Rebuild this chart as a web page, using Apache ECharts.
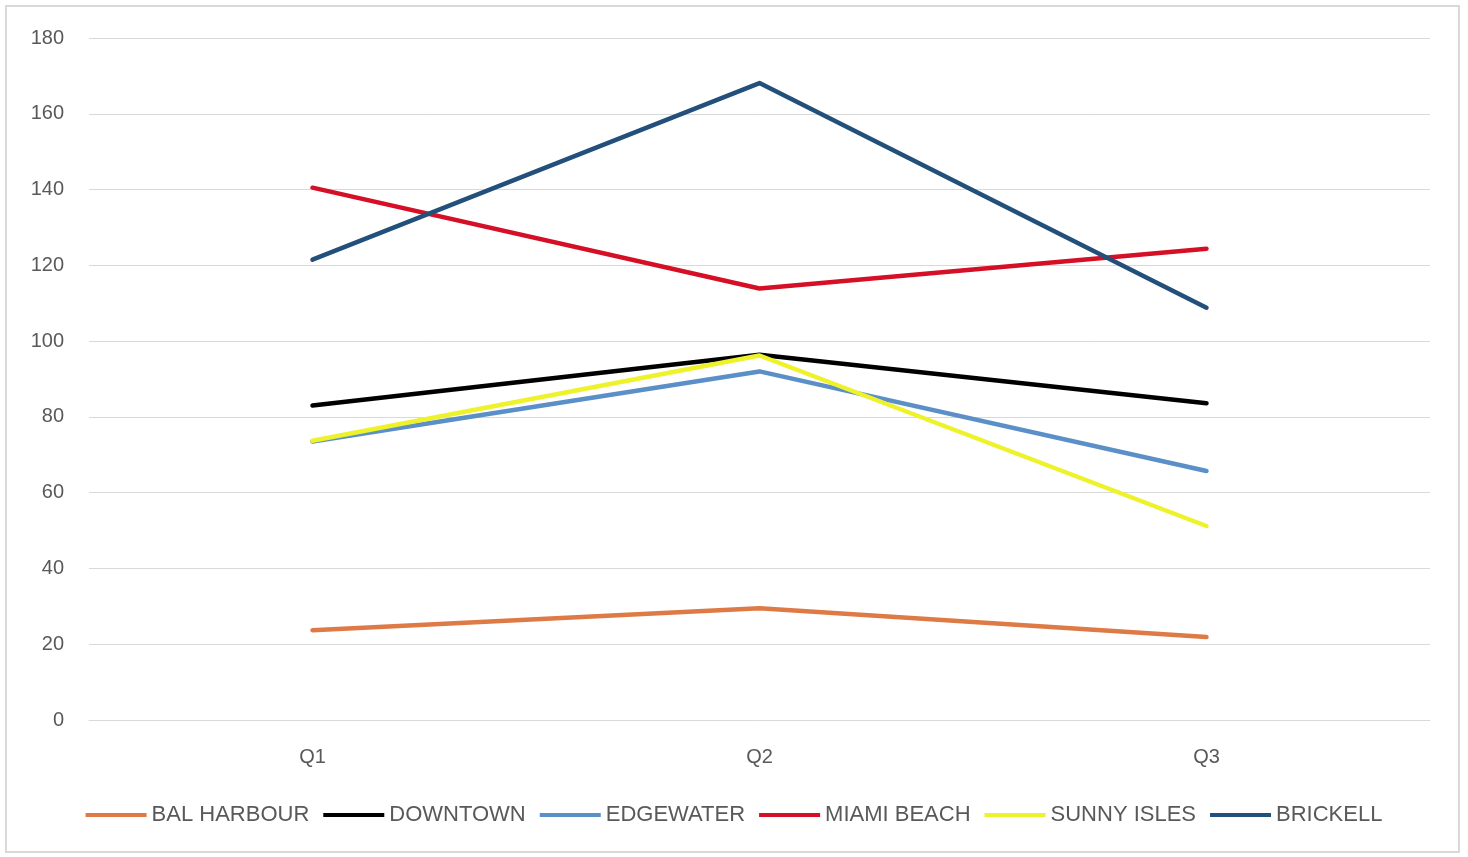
<!DOCTYPE html>
<html>
<head>
<meta charset="utf-8">
<script src="https://cdn.jsdelivr.net/npm/echarts@6/dist/echarts.min.js"></script>
<style>
  html, body { margin: 0; padding: 0; background: #ffffff; }
  #frame {
    position: absolute; left: 5px; top: 5px; width: 1455px; height: 848px;
    border: 2px solid #d9d9d9; box-sizing: border-box;
  }
  #chart { position: absolute; left: 0; top: 0; width: 1468px; height: 857px; }
</style>
</head>
<body>
<div id="frame"></div>
<div id="chart"></div>
<script>
// Quarterly figures by neighbourhood
const quarters = ['Q1', 'Q2', 'Q3'];
const balHarbour = [23.7, 29.5, 21.9];
const downtown   = [83.0, 96.4, 83.6];
const edgewater  = [73.5, 92.0, 65.7];
const miamiBeach = [140.5, 113.9, 124.4];
const sunnyIsles = [73.7, 96.2, 51.2];
const brickell   = [121.5, 168.1, 108.8];

const seriesNames  = ['BAL HARBOUR', 'DOWNTOWN', 'EDGEWATER', 'MIAMI BEACH', 'SUNNY ISLES', 'BRICKELL'];
const seriesValues = [balHarbour, downtown, edgewater, miamiBeach, sunnyIsles, brickell];
const seriesColors = ['#DD7A45', '#000000', '#5B8FC7', '#D50F25', '#EEF22A', '#22507A'];

const font = '"Liberation Sans", Arial, sans-serif';
const chart = echarts.init(document.getElementById('chart'));

chart.setOption({
  backgroundColor: 'transparent',
  animation: false,
  grid: { left: 89, right: 38, top: 38, bottom: 137 },
  legend: {
    left: 'center',
    top: 799,
    icon: 'rect',
    itemWidth: 61,
    itemHeight: 4,
    itemGap: 14,
    textStyle: { fontFamily: font, fontSize: 22, color: '#595959', padding: [0, 0, 0, 0] },
    data: seriesNames
  },
  xAxis: {
    type: 'category',
    data: quarters,
    boundaryGap: true,
    axisLine: { show: true, lineStyle: { color: '#d9d9d9', width: 1 } },
    axisTick: { show: false },
    axisLabel: { fontFamily: font, fontSize: 20, color: '#595959', margin: 27 }
  },
  yAxis: {
    type: 'value',
    min: 0,
    max: 180,
    interval: 20,
    axisLine: { show: false },
    axisTick: { show: false },
    splitLine: { lineStyle: { color: '#d9d9d9', width: 1 } },
    axisLabel: { fontFamily: font, fontSize: 20, color: '#595959', margin: 25 }
  },
  series: seriesNames.map((name, i) => ({
    name: name,
    type: 'line',
    data: seriesValues[i],
    symbol: 'none',
    color: seriesColors[i],
    lineStyle: { width: 4.5, color: seriesColors[i], cap: 'round', join: 'round' }
  }))
});
</script>
</body>
</html>
